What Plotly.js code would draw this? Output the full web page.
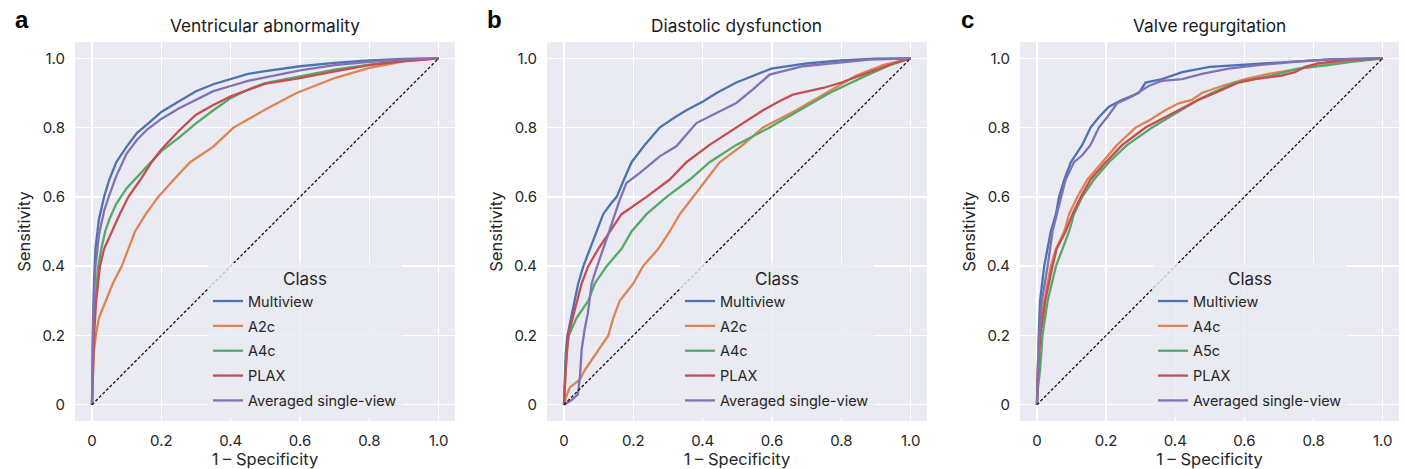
<!DOCTYPE html>
<html><head><meta charset="utf-8">
<script src="https://cdn.plot.ly/plotly-3.0.1.min.js"></script>
<style>html,body{margin:0;padding:0;background:#fff}</style>
</head><body><div id="chart" style="width:1405px;height:469px"></div>
<script>
// ---------- labels ----------
const panelTitles = ['Ventricular abnormality', 'Diastolic dysfunction', 'Valve regurgitation'];
const panelLetters = ['a', 'b', 'c'];
const tickVals = [0, 0.2, 0.4, 0.6, 0.8, 1.0];
const tickText = ['0', '0.2', '0.4', '0.6', '0.8', '1.0'];
const chanceLine = [0, 1];
const namesA = ['Multiview', 'A2c', 'A4c', 'PLAX', 'Averaged single-view'];
const namesB = ['Multiview', 'A2c', 'A4c', 'PLAX', 'Averaged single-view'];
const namesC = ['Multiview', 'A4c', 'A5c', 'PLAX', 'Averaged single-view'];

// ---------- panel a: Ventricular abnormality ----------
const a_multi_x = [0,0.001,0.003,0.006,0.01,0.02,0.035,0.05,0.07,0.1,0.13,0.16,0.2,0.25,0.3,0.35,0.4,0.45,0.5,0.6,0.7,0.8,0.9,1];
const a_multi_y = [0,0.12,0.25,0.36,0.45,0.535,0.6,0.65,0.7,0.745,0.785,0.81,0.845,0.875,0.905,0.925,0.94,0.955,0.963,0.977,0.987,0.994,0.998,1];
const a_a2c_x = [0,0.002,0.005,0.011,0.02,0.04,0.06,0.086,0.124,0.155,0.191,0.25,0.283,0.35,0.408,0.5,0.59,0.7,0.8,0.9,1];
const a_a2c_y = [0,0.1,0.15,0.2,0.25,0.3,0.35,0.4,0.5,0.55,0.6,0.665,0.7,0.745,0.8,0.852,0.9,0.943,0.972,0.991,1];
const a_a4c_x = [0,0.002,0.005,0.01,0.018,0.027,0.038,0.05,0.07,0.1,0.15,0.2,0.25,0.3,0.35,0.4,0.45,0.5,0.6,0.7,0.8,0.9,1];
const a_a4c_y = [0,0.15,0.24,0.3,0.4,0.45,0.5,0.535,0.58,0.625,0.68,0.732,0.77,0.812,0.85,0.885,0.91,0.928,0.948,0.967,0.982,0.993,1];
const a_plax_x = [0,0.003,0.006,0.012,0.018,0.023,0.035,0.057,0.08,0.105,0.14,0.172,0.2,0.25,0.3,0.35,0.4,0.5,0.6,0.7,0.8,0.9,1];
const a_plax_y = [0,0.13,0.2,0.3,0.36,0.4,0.45,0.5,0.55,0.6,0.65,0.7,0.737,0.79,0.837,0.865,0.89,0.927,0.943,0.962,0.98,0.992,1];
const a_avg_x = [0,0.001,0.003,0.006,0.01,0.02,0.035,0.05,0.07,0.1,0.13,0.16,0.2,0.25,0.3,0.35,0.4,0.45,0.5,0.6,0.7,0.8,0.9,1];
const a_avg_y = [0,0.1,0.22,0.32,0.4,0.49,0.56,0.605,0.66,0.725,0.765,0.795,0.825,0.855,0.88,0.905,0.92,0.935,0.945,0.965,0.98,0.99,0.997,1];

// ---------- panel b: Diastolic dysfunction ----------
const b_multi_x = [0,0.002,0.005,0.01,0.02,0.032,0.041,0.056,0.075,0.094,0.113,0.135,0.152,0.173,0.195,0.233,0.276,0.32,0.353,0.401,0.44,0.497,0.545,0.598,0.7,0.8,0.9,1];
const b_multi_y = [0,0.08,0.15,0.2,0.25,0.3,0.35,0.4,0.45,0.5,0.55,0.58,0.6,0.65,0.7,0.75,0.8,0.83,0.85,0.875,0.9,0.93,0.95,0.97,0.985,0.994,0.999,1];
const b_a2c_x = [0,0.005,0.017,0.046,0.06,0.094,0.128,0.142,0.161,0.2,0.228,0.272,0.305,0.334,0.372,0.41,0.449,0.516,0.574,0.67,0.756,0.843,0.92,1];
const b_a2c_y = [0,0.02,0.05,0.073,0.1,0.15,0.2,0.25,0.3,0.35,0.4,0.45,0.5,0.55,0.6,0.65,0.7,0.75,0.8,0.85,0.9,0.95,0.98,1];
const b_a4c_x = [0,0.003,0.007,0.014,0.036,0.07,0.089,0.123,0.166,0.195,0.238,0.296,0.363,0.42,0.497,0.593,0.68,0.766,0.871,0.94,1];
const b_a4c_y = [0,0.08,0.15,0.2,0.25,0.3,0.35,0.4,0.45,0.5,0.55,0.6,0.65,0.7,0.75,0.8,0.85,0.9,0.95,0.98,1];
const b_plax_x = [0,0.002,0.005,0.012,0.024,0.038,0.051,0.07,0.099,0.132,0.166,0.195,0.238,0.305,0.353,0.42,0.497,0.574,0.62,0.66,0.75,0.8,0.9,0.95,1];
const b_plax_y = [0,0.05,0.1,0.2,0.25,0.3,0.35,0.4,0.45,0.5,0.55,0.57,0.6,0.65,0.7,0.75,0.8,0.85,0.875,0.895,0.915,0.93,0.967,0.985,1];
const b_avg_x = [0,0.02,0.04,0.046,0.051,0.06,0.069,0.08,0.089,0.1,0.113,0.127,0.142,0.161,0.18,0.219,0.276,0.324,0.382,0.44,0.497,0.545,0.593,0.689,0.785,0.881,1];
const b_avg_y = [0,0.012,0.03,0.08,0.16,0.22,0.265,0.35,0.38,0.41,0.45,0.49,0.535,0.592,0.64,0.669,0.717,0.746,0.813,0.842,0.871,0.91,0.953,0.977,0.987,0.996,1];

// ---------- panel c: Valve regurgitation ----------
const c_multi_x = [0,0.002,0.005,0.009,0.021,0.04,0.055,0.064,0.079,0.098,0.131,0.155,0.179,0.208,0.247,0.295,0.314,0.362,0.42,0.5,0.573,0.717,0.85,1];
const c_multi_y = [0,0.12,0.2,0.3,0.4,0.5,0.55,0.6,0.65,0.7,0.75,0.8,0.83,0.86,0.88,0.9,0.93,0.94,0.96,0.975,0.98,0.99,0.997,1];
const c_a4c_x = [0,0.002,0.007,0.021,0.04,0.055,0.079,0.093,0.117,0.146,0.189,0.232,0.285,0.323,0.371,0.41,0.448,0.477,0.535,0.602,0.669,0.755,0.813,0.88,1];
const c_a4c_y = [0,0.1,0.2,0.3,0.4,0.45,0.5,0.55,0.6,0.65,0.7,0.75,0.8,0.82,0.85,0.87,0.88,0.9,0.92,0.94,0.955,0.97,0.98,0.99,1];
const c_a5c_x = [0,0.003,0.009,0.016,0.031,0.055,0.093,0.107,0.131,0.165,0.208,0.261,0.333,0.419,0.467,0.506,0.573,0.679,0.755,0.842,0.909,1];
const c_a5c_y = [0,0.05,0.1,0.2,0.3,0.4,0.5,0.55,0.6,0.65,0.7,0.75,0.8,0.85,0.88,0.9,0.93,0.95,0.97,0.98,0.99,1];
const c_plax_x = [0,0.003,0.01,0.024,0.045,0.057,0.083,0.103,0.127,0.155,0.199,0.247,0.314,0.41,0.467,0.515,0.583,0.631,0.707,0.746,0.775,0.813,0.89,1];
const c_plax_y = [0,0.1,0.2,0.3,0.4,0.45,0.5,0.55,0.6,0.65,0.7,0.75,0.8,0.85,0.88,0.9,0.93,0.94,0.95,0.96,0.975,0.985,0.995,1];
const c_avg_x = [0,0.003,0.007,0.014,0.031,0.045,0.069,0.083,0.107,0.131,0.155,0.179,0.203,0.232,0.275,0.323,0.362,0.42,0.477,0.554,0.64,0.746,0.85,1];
const c_avg_y = [0,0.1,0.2,0.3,0.4,0.5,0.6,0.65,0.7,0.72,0.75,0.8,0.83,0.87,0.89,0.92,0.935,0.94,0.955,0.97,0.98,0.99,0.997,1];

// ---------- styling ----------
const colors = ['#4C72B0', '#DD8452', '#55A868', '#C44E52', '#8172B3'];
const FONT = 'Inter, "Noto Sans", sans-serif';
const TXT = '#262626';
const BG = '#EAEAF2';
const W = 1405, H = 469;
const boxes = [[75, 455], [547, 927], [1020, 1399]];
const boxTop = 42, boxBottom = 421;
const legendLeft = [208, 680, 1153];

const panels = [
  {names: namesA, xs: [a_multi_x, a_a2c_x, a_a4c_x, a_plax_x, a_avg_x], ys: [a_multi_y, a_a2c_y, a_a4c_y, a_plax_y, a_avg_y]},
  {names: namesB, xs: [b_multi_x, b_a2c_x, b_a4c_x, b_plax_x, b_avg_x], ys: [b_multi_y, b_a2c_y, b_a4c_y, b_plax_y, b_avg_y]},
  {names: namesC, xs: [c_multi_x, c_a4c_x, c_a5c_x, c_plax_x, c_avg_x], ys: [c_multi_y, c_a4c_y, c_a5c_y, c_plax_y, c_avg_y]}
];

const traces = [];
const layout = {
  width: W, height: H,
  margin: {l: 0, r: 0, t: 0, b: 0, pad: 0},
  paper_bgcolor: '#ffffff',
  plot_bgcolor: BG,
  font: {family: FONT, size: 15, color: TXT},
  showlegend: true,
  annotations: []
};

panels.forEach((p, i) => {
  const sfx = i === 0 ? '' : String(i + 1);
  const xa = 'x' + sfx, ya = 'y' + sfx;
  const legendId = 'legend' + sfx;
  p.names.forEach((nm, k) => {
    traces.push({
      type: 'scatter', mode: 'lines', x: p.xs[k], y: p.ys[k], name: nm,
      xaxis: xa, yaxis: ya, legend: legendId, legendgroup: 'p' + i + 'g' + k,
      line: {color: colors[k], width: 2.3}, hoverinfo: 'x+y+name'
    });
  });
  traces.push({
    type: 'scatter', mode: 'lines', x: chanceLine, y: chanceLine, xaxis: xa, yaxis: ya,
    showlegend: false, line: {color: '#111111', width: 1.3, dash: '3px,2px'}, hoverinfo: 'skip'
  });
  const [L, R] = boxes[i];
  layout['xaxis' + sfx] = {
    domain: [L / W, R / W], anchor: ya, range: [-0.049, 1.047],
    tickvals: tickVals, ticktext: tickText, showgrid: true, gridcolor: '#ffffff', gridwidth: 1.3,
    zeroline: false, showline: false, ticks: 'outside', ticklen: 6, tickcolor: 'rgba(0,0,0,0)',
    tickfont: {family: FONT, size: 15, color: TXT},
    title: {text: '1 \u2013 Specificity', font: {family: FONT, size: 16.5, color: TXT}, standoff: 3},
    fixedrange: true
  };
  layout['yaxis' + sfx] = {
    domain: [1 - boxBottom / H, 1 - boxTop / H], anchor: xa, range: [-0.047, 1.047],
    tickvals: tickVals, ticktext: tickText, showgrid: true, gridcolor: '#ffffff', gridwidth: 1.3,
    zeroline: false, showline: false, ticks: 'outside', ticklen: 6, tickcolor: 'rgba(0,0,0,0)',
    tickfont: {family: FONT, size: 15, color: TXT},
    title: {text: 'Sensitivity', font: {family: FONT, size: 16.5, color: TXT}, standoff: 7},
    fixedrange: true
  };
  layout[legendId] = {
    x: legendLeft[i] / W, xanchor: 'left', xref: 'paper',
    y: 1 - 263 / H, yanchor: 'top', yref: 'paper',
    bgcolor: 'rgba(234,234,242,0.8)', borderwidth: 0,
    font: {family: FONT, size: 14.5, color: TXT},
    title: {text: 'Class', side: 'top center', font: {family: FONT, size: 17, color: TXT}},
    tracegroupgap: 3, entrywidth: 205, entrywidthmode: 'pixels',
    itemclick: false, itemdoubleclick: false
  };
  layout.annotations.push({
    text: panelTitles[i], xref: 'paper', yref: 'paper',
    x: ((L + R) / 2) / W, y: 1 - 25 / H, xanchor: 'center', yanchor: 'middle',
    showarrow: false, font: {family: FONT, size: 17.3, color: '#1a1a1a'}
  });
  layout.annotations.push({
    text: '<b>' + panelLetters[i] + '</b>', xref: 'paper', yref: 'paper',
    x: (L - 53) / W, y: 1 - 19 / H, xanchor: 'center', yanchor: 'middle',
    showarrow: false, font: {family: '"Liberation Sans", Arial, sans-serif', size: 24, color: '#000000'}
  });
});

Plotly.newPlot('chart', traces, layout, {staticPlot: true, displayModeBar: false});
</script></body></html>
